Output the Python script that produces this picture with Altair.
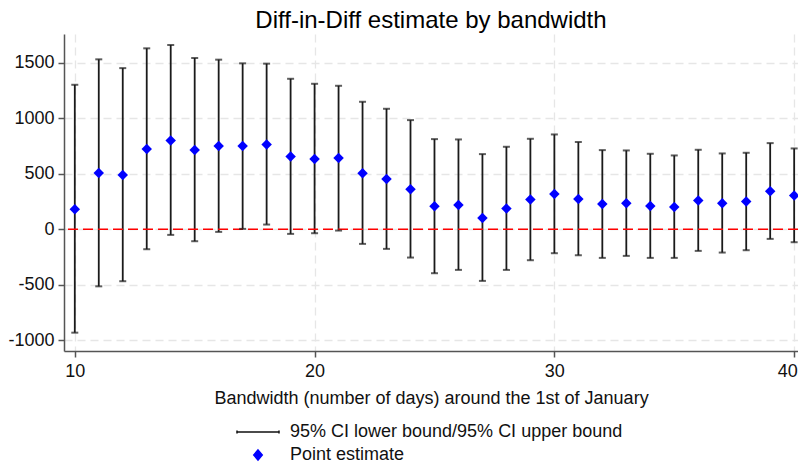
import altair as alt
import pandas as pd

bandwidth = list(range(10, 41))
estimate = [180, 507, 489, 723, 799, 714, 750, 748, 763, 655, 633, 640, 504, 453,
            360, 207, 219, 102, 186, 268, 318, 273, 228, 234, 210, 201, 258, 234, 249, 342, 303]
upper = [1300, 1529, 1450, 1628, 1658, 1541, 1526, 1493, 1490, 1354, 1309, 1291, 1147, 1084,
         982, 811, 808, 676, 742, 814, 853, 784, 712, 709, 679, 664, 715, 682, 688, 775, 727]
lower = [-931, -514, -468, -180, -51, -108, -24, 3, 42, -42, -36, -12, -132, -177,
         -255, -396, -366, -465, -366, -279, -216, -234, -258, -240, -258, -258, -195, -210, -189, -87, -117]

legend_labels = ["95% CI lower bound/95% CI upper bound", "Point estimate"]
x_ticks = [10, 20, 30, 40]
y_ticks = [-1000, -500, 0, 500, 1000, 1500]

df = pd.DataFrame({"bw": bandwidth, "est": estimate, "lo": lower, "hi": upper})
leg_df = pd.DataFrame({"label": legend_labels})
zero_df = pd.DataFrame({"z": [0]})

FONT = "Liberation Sans"

xscale = alt.Scale(domain=[9.55, 40.16], nice=False, zero=False)
yscale = alt.Scale(domain=[-1096, 1757], nice=False, zero=False)

hyphen_expr = "datum.value < 0 ? '-' + format(-datum.value, 'd') : format(datum.value, 'd')"

xenc = alt.X("bw:Q", scale=xscale,
             axis=alt.Axis(values=x_ticks, title="Bandwidth (number of days) around the 1st of January",
                           labelExpr=hyphen_expr,
                           labelAlign={"expr": "datum.value >= 40 ? 'right' : 'center'"},
                           labelOffset={"expr": "datum.value >= 40 ? 3 : 0"}))
yenc = alt.Y("hi:Q", scale=yscale, axis=alt.Axis(values=y_ticks, title=None, labelExpr=hyphen_expr))

base = alt.Chart(df)

rules = base.mark_rule(color="#1a1a1a", strokeWidth=1.8).encode(
    x=xenc, y=yenc, y2="lo:Q")

caps_hi = base.mark_tick(color="#1a1a1a", orient="horizontal", size=7, thickness=2).encode(
    x="bw:Q", y="hi:Q")
caps_lo = base.mark_tick(color="#1a1a1a", orient="horizontal", size=7, thickness=2).encode(
    x="bw:Q", y="lo:Q")

zero = alt.Chart(zero_df).mark_rule(color="#ff0000", strokeWidth=1.6, strokeDash=[10, 5]).encode(
    y="z:Q")

points = base.mark_point(shape="diamond", filled=True, color="#0000ff", size=110, opacity=1).encode(
    x="bw:Q", y="est:Q")

cap_line = "M-4.2,-0.3 L-4.2,0.3 M-4.2,0 L4.2,0 M4.2,-0.3 L4.2,0.3"
small_diamond = "M0,-1 L0.85,0 L0,1 L-0.85,0 Z"

leg_common = dict(title=None, orient="none", legendX=185, legendY=389, direction="vertical",
                  symbolSize=100, symbolStrokeWidth=1.5, symbolOpacity=1,
                  labelFontSize=18, labelFont=FONT, labelColor="#111", labelOffset=23,
                  labelLimit=0, rowPadding=5, padding=0)

legend_layer = alt.Chart(leg_df).mark_point(opacity=0, filled=True).encode(
    shape=alt.Shape("label:N", scale=alt.Scale(domain=legend_labels, range=[cap_line, small_diamond]),
                    legend=alt.Legend(**leg_common)),
    fill=alt.Fill("label:N", scale=alt.Scale(domain=legend_labels, range=["#111111", "#0000ff"]),
                  legend=alt.Legend(**leg_common)),
    stroke=alt.Stroke("label:N", scale=alt.Scale(domain=legend_labels, range=["#111111", "#0000ff"]),
                      legend=alt.Legend(**leg_common)),
)

chart = alt.layer(rules, zero, caps_hi, caps_lo, points, legend_layer).properties(
    width=734, height=317,
    title=alt.TitleParams("Diff-in-Diff estimate by bandwidth", fontSize=24, font=FONT,
                          fontWeight="normal", color="#000", anchor="middle", offset=1),
    autosize=alt.AutoSizeParams(type="none"),
    padding={"left": 56, "top": 26, "right": 0, "bottom": 125},
).configure_view(stroke=None).configure_axis(
    labelFont=FONT, labelFontSize=18, labelColor="#111",
    titleFont=FONT, titleFontSize=18, titleFontWeight="normal", titleColor="#111",
    domainColor="#555", domainWidth=1.5, tickColor="#555", tickWidth=1.5, tickSize=6,
    gridColor="#e6e6e6", gridDash=[8, 5], gridWidth=1.3,
).configure_axisX(titlePadding=9, labelPadding=5).configure_axisY(labelPadding=4)

chart.save("out.html", embed_options={"renderer": "svg", "actions": False})
